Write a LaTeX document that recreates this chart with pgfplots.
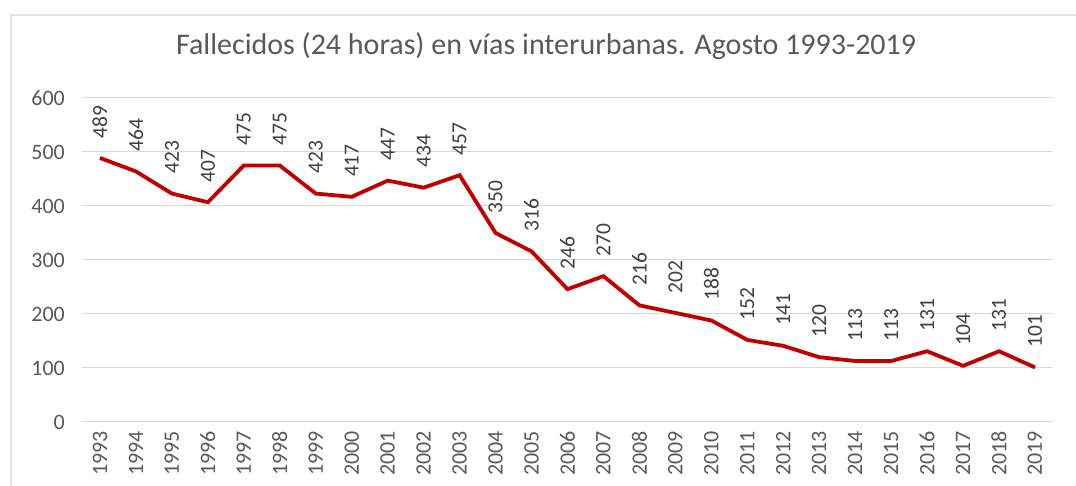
\documentclass[border=0pt]{standalone}
\usepackage{pgfplots}
\pgfplotsset{compat=1.18}
\usepackage{fontspec}
\setmainfont{Carlito}
\definecolor{linered}{HTML}{C00000}
\definecolor{ticktext}{HTML}{595959}
\definecolor{labtext}{HTML}{404040}
\definecolor{gridc}{HTML}{D9D9D9}
\begin{document}
\begin{tikzpicture}
\path[use as bounding box] (0pt,0pt) rectangle (1076pt,486pt);
\draw[gray!22, line width=1.5pt] (11pt,-5pt) -- (11pt,471pt) -- (1090pt,471pt);
\begin{axis}[
  at={(82pt,64pt)}, anchor=south west,
  scale only axis, width=971pt, height=324pt,
  xmin=1992.5, xmax=2019.5, ymin=0, ymax=600,
  xtick={1993,...,2019}, ytick={0,100,...,600},
  ymajorgrids, grid style={gridc, line width=1pt},
  axis line style={draw=none}, tick style={draw=none},
  /pgf/number format/assume math mode=true,
  /pgf/number format/1000 sep={},
  ticklabel style={font=\fontsize{22}{22}\selectfont, text=ticktext},
  xticklabel style={rotate=90, anchor=east, inner sep=0pt, xshift=-9pt},
  yticklabel style={inner sep=0pt, xshift=-17pt},
  title={Fallecidos (24 horas) en vías interurbanas. Agosto 1993-2019},
  title style={at={(0.478,1)}, anchor=center, yshift=46pt, font=\fontsize{30}{30}\selectfont, text=ticktext},
  nodes near coords,
  every node near coord/.append style={rotate=90, anchor=west, inner xsep=18pt, inner ysep=0pt, font=\fontsize{21.5}{21.5}\selectfont, text=labtext},
]
\addplot[linered, line width=3.8pt, mark=none] coordinates {
(1993,489) (1994,464) (1995,423) (1996,407) (1997,475) (1998,475) (1999,423)
(2000,417) (2001,447) (2002,434) (2003,457) (2004,350) (2005,316) (2006,246)
(2007,270) (2008,216) (2009,202) (2010,188) (2011,152) (2012,141) (2013,120)
(2014,113) (2015,113) (2016,131) (2017,104) (2018,131) (2019,101)
};
\end{axis}
\end{tikzpicture}
\end{document}
